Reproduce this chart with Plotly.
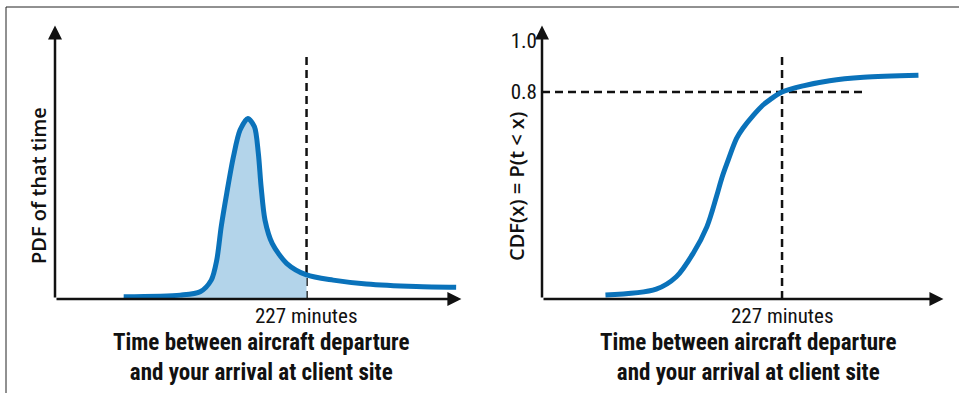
import plotly.graph_objects as go

# ---------------- data ----------------
# PDF of travel time (minutes, arbitrary density units)
pdf_x = [62, 113, 131, 141, 146, 150, 155, 161, 167, 174, 180, 183.5, 186, 189.5, 196, 209, 227, 251, 281, 326, 362]
pdf_y = [0.009, 0.015, 0.028, 0.073, 0.151, 0.280, 0.409, 0.550, 0.653, 0.698, 0.666, 0.563, 0.434, 0.305, 0.215, 0.138, 0.093, 0.073, 0.058, 0.048, 0.045]

# CDF of travel time
cdf_x = [60, 108, 127, 143, 156, 165, 170, 175, 184, 190, 200, 209, 216, 227, 247, 272, 304, 356]
cdf_y = [0.015, 0.038, 0.086, 0.177, 0.280, 0.396, 0.467, 0.525, 0.621, 0.660, 0.711, 0.750, 0.772, 0.80, 0.824, 0.844, 0.857, 0.865]

threshold_minutes = 227
threshold_prob = 0.8
cdf_tick_vals = [0.8, 1.0]
cdf_tick_text = ["0.8", "1.0"]

x_label = ["Time between aircraft departure", "and your arrival at client site"]
pdf_y_label = "PDF of that time"
cdf_y_label = "CDF(x) = P(t < x)"
threshold_label = "227 minutes"

# ---------------- layout constants ----------------
W, H = 959, 393
BLUE = "#0a72ba"
FILL = "#b3d4ea"
INK = "#111111"
COND = "Liberation Sans Narrow, Roboto Condensed, Liberation Sans, sans-serif"

XMAX1, XMAX2, YMAX = 370, 383, 1.071

def px(x):
    return x / W

def py(y):
    return 1 - y / H

fig = go.Figure()

# fill under PDF up to threshold
fx = [x for x in pdf_x if x <= threshold_minutes]
fy = [y for x, y in zip(pdf_x, pdf_y) if x <= threshold_minutes]
fig.add_trace(go.Scatter(x=fx, y=fy, mode="lines", line=dict(width=0, shape="spline", smoothing=0.8),
                         fill="tozeroy", fillcolor=FILL, xaxis="x", yaxis="y", hoverinfo="skip"))
fig.add_trace(go.Scatter(x=pdf_x, y=pdf_y, mode="lines",
                         line=dict(color=BLUE, width=5, shape="spline", smoothing=0.8),
                         xaxis="x", yaxis="y"))
fig.add_trace(go.Scatter(x=cdf_x, y=cdf_y, mode="lines",
                         line=dict(color=BLUE, width=5, shape="spline", smoothing=0.9),
                         xaxis="x2", yaxis="y2"))

ydom = [py(299), py(22)]
axis_common = dict(showgrid=False, zeroline=False, showline=False, fixedrange=True)
fig.update_layout(
    width=W, height=H, autosize=False,
    margin=dict(l=0, r=0, t=0, b=0),
    paper_bgcolor="white", plot_bgcolor="white",
    showlegend=False,
    xaxis=dict(domain=[px(55), px(465)], range=[0, XMAX1], showticklabels=False, anchor="y", **axis_common),
    yaxis=dict(domain=ydom, range=[0, YMAX], showticklabels=False, anchor="x", **axis_common),
    xaxis2=dict(domain=[px(542), px(947)], range=[0, XMAX2], showticklabels=False, anchor="y2", **axis_common),
    yaxis2=dict(domain=ydom, range=[0, YMAX], anchor="x2", tickmode="array",
                tickvals=cdf_tick_vals, ticktext=cdf_tick_text, ticks="", ticklabelstandoff=4,
                tickfont=dict(family=COND, size=21, color=INK), **axis_common),
)

dash = "8px,5px"
shapes = [
    # frame
    dict(type="line", xref="paper", yref="paper", x0=px(6), x1=1, y0=py(7), y1=py(7), line=dict(color="#222", width=1)),
    dict(type="line", xref="paper", yref="paper", x0=px(6), x1=px(6), y0=0, y1=py(7), line=dict(color="#222", width=1)),
    # threshold lines
    dict(type="line", xref="x", yref="y", x0=threshold_minutes, x1=threshold_minutes, y0=0, y1=0.943,
         line=dict(color=INK, width=2.5, dash=dash), layer="below"),
    dict(type="line", xref="x2", yref="y2", x0=threshold_minutes, x1=threshold_minutes, y0=0, y1=0.943,
         line=dict(color=INK, width=2.5, dash=dash), layer="below"),
    dict(type="line", xref="x2", yref="y2", x0=0, x1=303, y0=threshold_prob, y1=threshold_prob,
         line=dict(color=INK, width=2.5, dash=dash), layer="below"),
]
fig.update_layout(shapes=shapes)

ann = []
# axes as arrows
for xr, yr, xmax in (("x", "y", XMAX1), ("x2", "y2", XMAX2)):
    xtip = xmax * (1 - 3.6 / 410)
    ytip = YMAX * (1 - 3.6 / 277)
    ann.append(dict(x=xtip, y=0, ax=0, ay=0, xref=xr, yref=yr, axref=xr, ayref=yr, text="",
                    showarrow=True, arrowhead=2, arrowsize=1.12, arrowwidth=2.5, arrowcolor=INK, standoff=0))
    ann.append(dict(x=0, y=ytip, ax=0, ay=0, xref=xr, yref=yr, axref=xr, ayref=yr, text="",
                    showarrow=True, arrowhead=2, arrowsize=1.12, arrowwidth=2.5, arrowcolor=INK, standoff=0))
    ann.append(dict(x=threshold_minutes, y=0, xref=xr, yref=yr, text=threshold_label, showarrow=False,
                    xanchor="center", yanchor="top", yshift=-3, font=dict(family=COND, size=21, color=INK)))

for cx in (261, 748):
    ann.append(dict(x=px(cx), y=py(357), xref="paper", yref="paper", text="<br>".join(x_label),
                    showarrow=False, xanchor="center", yanchor="middle", align="center",
                    font=dict(family=COND, size=23, color=INK, weight="bold")))

ann.append(dict(x=px(38), y=py(186), xref="paper", yref="paper", text=pdf_y_label, textangle=-90,
                xanchor="center", yanchor="middle",
                showarrow=False, font=dict(family="Open Sans, sans-serif", size=20, color=INK, weight=600)))
ann.append(dict(x=px(516), y=py(187), xref="paper", yref="paper", text=cdf_y_label, textangle=-90,
                xanchor="center", yanchor="middle",
                showarrow=False, font=dict(family="Open Sans, sans-serif", size=20, color=INK, weight=600)))
fig.update_layout(annotations=ann)

fig.write_html("out.html", config={"displayModeBar": False},
               post_script="document.body.style.margin='0';")
